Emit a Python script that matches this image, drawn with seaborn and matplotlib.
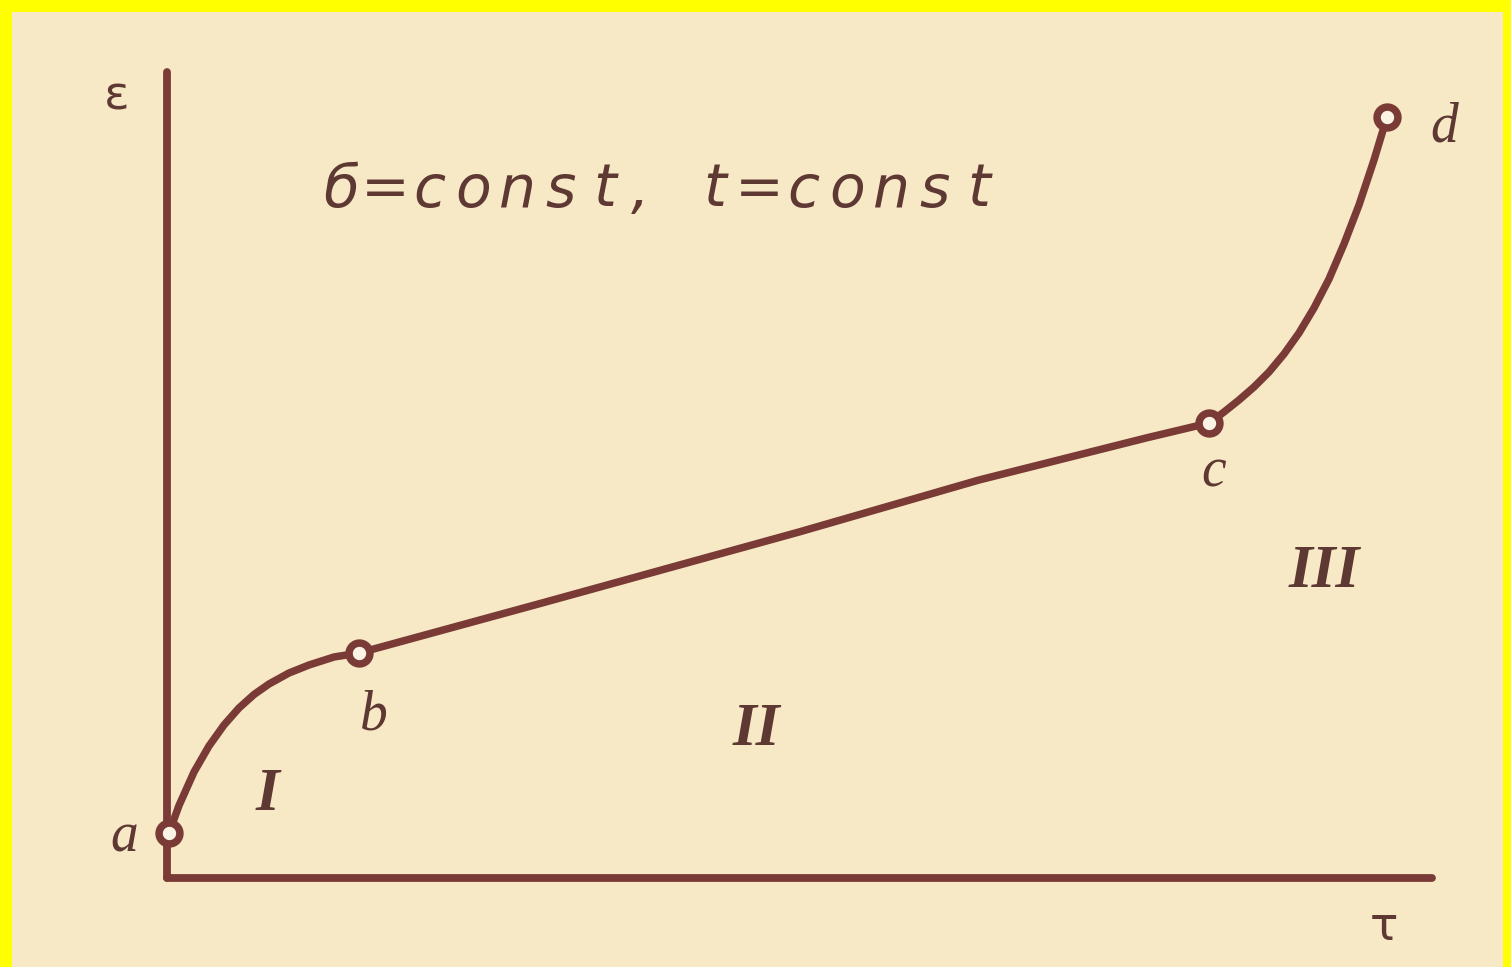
import matplotlib
matplotlib.use("Agg")
import matplotlib.pyplot as plt
from matplotlib.patches import Rectangle
import seaborn as sns
import pandas as pd

# Creep curve: strain ε versus time τ at constant stress and temperature
tau = [0.02, 0.12, 0.27, 0.42, 0.57, 0.72, 0.87, 1.02, 1.22, 1.42, 1.67,
       1.92, 3.75, 6.32, 8.12, 9.79,
       10.42, 10.57, 10.72, 10.87, 11.02, 11.17, 11.32, 11.47, 11.62, 11.77,
       11.92, 12.07, 12.20]
eps = [0.45, 0.725, 1.06, 1.32, 1.53, 1.70, 1.835, 1.94, 2.05, 2.13, 2.21,
       2.25, 2.75, 3.46, 3.98, 4.40,
       4.55, 4.66, 4.78, 4.91, 5.06, 5.24, 5.45, 5.70, 5.99, 6.34,
       6.73, 7.18, 7.61]

# Stage boundaries on the curve
point_names = ["a", "b", "c", "d"]
point_index = [0, 11, 16, 28]
point_label_pos = [(-0.43, 0.40), (2.07, 1.63), (10.47, 4.06), (12.77, 7.50)]

# Creep stages
stage_names = ["I", "II", "III"]
stage_pos = [(1.00, 0.83), (5.89, 1.48), (11.57, 3.06)]

condition_text = "б=const, t=const"
x_label = "τ"
y_label = "ε"

line_color = "#7a3b36"
text_color = "#5e3832"
paper = "#f7e8c6"

sns.set_theme(style="white")

W, H = 1511, 967
fig = plt.figure(figsize=(W / 100, H / 100), dpi=100)
fig.patch.set_facecolor("#ffff00")
fig.add_artist(Rectangle((12 / W, 0), (W - 12 - 8) / W, (H - 12) / H,
                         transform=fig.transFigure, facecolor=paper,
                         edgecolor="none", zorder=-10))

x0, y0, x1, y1 = 167, 878, 1432, 72
ax = fig.add_axes([x0 / W, (H - y0) / H, (x1 - x0) / W, (y0 - y1) / H])
ax.set_facecolor("none")
ax.set_xlim(0, (x1 - x0) / 100)
ax.set_ylim(0, (y0 - y1) / 100)
for s in ["top", "right"]:
    ax.spines[s].set_visible(False)
for s in ["left", "bottom"]:
    ax.spines[s].set_color(line_color)
    ax.spines[s].set_linewidth(5.6)
    ax.spines[s].set_capstyle("round")

df = pd.DataFrame({"tau": tau, "eps": eps})
sns.lineplot(data=df, x="tau", y="eps", sort=False, estimator=None, ax=ax,
             color=line_color, linewidth=5.4, clip_on=False,
             solid_capstyle="round", solid_joinstyle="round")
ax.set_xticks([])
ax.set_yticks([])
ax.set_xlabel("")
ax.set_ylabel("")

px = [tau[i] for i in point_index]
py = [eps[i] for i in point_index]
ax.plot(px, py, linestyle="none", marker="o", markersize=15,
        markerfacecolor="#fbf4e4", markeredgecolor=line_color,
        markeredgewidth=5.4, clip_on=False, zorder=5)

serif_it = dict(family="Liberation Serif", style="italic", color=text_color)
for name, (lx, ly) in zip(point_names, point_label_pos):
    ax.text(lx, ly, name, fontsize=40, ha="center", va="center",
            clip_on=False, **serif_it)
for name, (lx, ly) in zip(stage_names, stage_pos):
    ax.text(lx, ly, name, fontsize=44, ha="center", va="center",
            weight="bold", clip_on=False, **serif_it)

# Condition line set with wide, even letter spacing
half_width = {",": 0.13, " ": 0.20}
cx = 1.74
prev = None
for ch in condition_text:
    hw = half_width.get(ch, 0.22)
    if prev is not None:
        cx += prev + hw
    if ch != " ":
        ax.text(cx, 6.88, ch, fontsize=42, ha="center", va="center",
                family="DejaVu Sans", style="oblique", color=text_color,
                clip_on=False)
    prev = hw

ax.text(-0.5, 7.81, y_label, fontsize=34, ha="center", va="center",
        family="DejaVu Sans", color=text_color, clip_on=False)
ax.text(12.17, -0.50, x_label, fontsize=34, ha="center", va="center",
        family="DejaVu Sans", color=text_color, clip_on=False)

fig.savefig("out.png", dpi=100, facecolor=fig.get_facecolor())
